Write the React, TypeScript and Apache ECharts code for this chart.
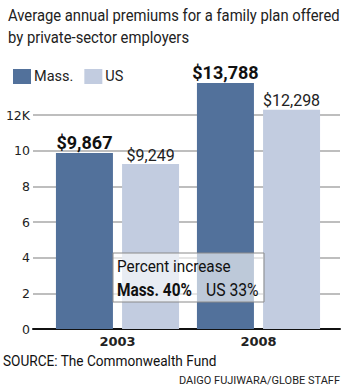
import React, { useEffect, useRef } from "react";
import * as echarts from "echarts";

const categories = ["2003", "2008"];
const massValues = [9867, 13788];
const usValues = [9249, 12298];
const massLabels = ["$9,867", "$13,788"];
const usLabels = ["$9,249", "$12,298"];
const seriesNames = ["Mass.", "US"];

const NARROW = '"Roboto", sans-serif';

export default function App() {
  const ref = useRef<HTMLDivElement>(null);
  useEffect(() => {
    if (!ref.current) return;
    const chart = echarts.init(ref.current, null, { renderer: "svg" });
    const top = 115;
    const bottom = 63;
    chart.setOption({
      animation: false,
      backgroundColor: "#ffffff",
      legend: {
        left: 8,
        top: 64,
        itemWidth: 18,
        itemHeight: 15,
        itemGap: 11,
        icon: "rect",
        data: seriesNames,
        textStyle: { fontFamily: NARROW, fontSize: 14.5, color: "#222", padding: [0, 0, 0, -2] },
      },
      grid: [
        { left: 33, right: 10, top, bottom },
        { left: 47, right: 21, top, bottom },
      ],
      xAxis: [
        {
          gridIndex: 0,
          type: "category",
          data: categories,
          axisLine: { show: true, lineStyle: { color: "#111", width: 2 } },
          axisTick: { show: false },
          axisLabel: { show: false },
        },
        {
          gridIndex: 1,
          type: "category",
          data: categories,
          axisLine: { show: false },
          axisTick: { show: false },
          axisLabel: {
            margin: 6,
            fontFamily: "DejaVu Sans",
            fontWeight: "bold",
            fontSize: 13,
            color: "#222",
          },
        },
      ],
      yAxis: [
        {
          gridIndex: 0,
          type: "value",
          min: 0,
          max: 12000,
          interval: 2000,
          axisLine: { show: false },
          axisTick: { show: false },
          axisLabel: {
            margin: 3,
            fontFamily: "DejaVu Sans",
            fontSize: 12.5,
            color: "#222",
            formatter: (v: number) => (v === 12000 ? "12K" : String(v / 1000)),
          },
          splitLine: { lineStyle: { color: "#a8a8a8", width: 1.5 } },
        },
        {
          gridIndex: 1,
          type: "value",
          min: 0,
          max: 12000,
          interval: 2000,
          show: false,
          splitLine: { show: false },
        },
      ],
      series: [
        {
          name: seriesNames[0],
          type: "bar",
          xAxisIndex: 1,
          yAxisIndex: 1,
          data: massValues,
          barWidth: 57,
          barGap: "16%",
          clip: false,
          itemStyle: { color: "#52719b" },
          label: {
            show: true,
            position: "top",
            distance: 2,
            formatter: (p: any) => massLabels[p.dataIndex],
            fontFamily: NARROW,
            fontWeight: "bold",
            fontSize: 18,
            color: "#111",
          },
          z: 2,
        },
        {
          name: seriesNames[1],
          type: "bar",
          xAxisIndex: 1,
          yAxisIndex: 1,
          data: usValues,
          barWidth: 57,
          clip: false,
          itemStyle: { color: "#c2cce0" },
          label: {
            show: true,
            position: "top",
            distance: 1,
            formatter: (p: any) => usLabels[p.dataIndex],
            fontFamily: NARROW,
            fontSize: 16,
            color: "#222",
          },
          z: 2,
        },
      ],
      graphic: [
        {
          type: "text",
          x: 8,
          y: 4,
          scaleX: 0.87,
          z: 100,
          style: {
            text: "Average annual premiums for a family plan offered\nby private-sector employers",
            fontFamily: NARROW,
            fontSize: 17,
            lineHeight: 22,
            fill: "#222",
          },
        },
        {
          type: "rect",
          x: 113,
          y: 253,
          z: 100,
          shape: { x: 0, y: 0, width: 151, height: 49 },
          style: { fill: "rgba(255,255,255,0.62)", stroke: "#8a8a8a", lineWidth: 1 },
        },
        {
          type: "text",
          x: 117,
          y: 258,
          z: 101,
          scaleX: 0.9,
          style: { text: "Percent increase", fontFamily: NARROW, fontSize: 17, fill: "#111" },
        },
        {
          type: "text",
          x: 117,
          y: 281,
          z: 101,
          scaleX: 0.88,
          style: { text: "Mass. 40%", fontFamily: NARROW, fontSize: 17.5, fontWeight: "bold", fill: "#111" },
        },
        {
          type: "text",
          x: 206,
          y: 281,
          z: 101,
          scaleX: 0.9,
          style: { text: "US 33%", fontFamily: NARROW, fontSize: 17.5, fill: "#111" },
        },
        {
          type: "text",
          x: 3,
          y: 353,
          z: 100,
          scaleX: 0.88,
          style: { text: "SOURCE: The Commonwealth Fund", fontFamily: NARROW, fontSize: 15.5, fill: "#111" },
        },
        {
          type: "text",
          right: 10,
          top: 375,
          z: 100,
          style: { text: "DAIGO FUJIWARA/GLOBE STAFF", fontFamily: NARROW, fontSize: 11, fill: "#222" },
        },
      ],
    });
    return () => chart.dispose();
  }, []);
  return (
    <div
      ref={ref}
      style={{ position: "fixed", left: 0, top: 0, width: 350, height: 392 }}
    />
  );
}
